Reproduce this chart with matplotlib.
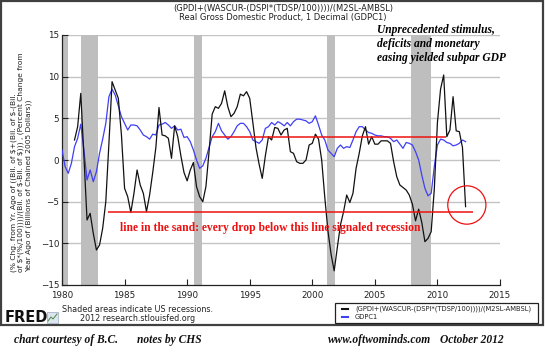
import numpy as np
import matplotlib
matplotlib.use("Agg")
import matplotlib.pyplot as plt
from matplotlib.patches import Rectangle, Ellipse
from matplotlib.lines import Line2D

# ---------------- data (quarterly, % change from year ago) ----------------
black_start = 1981.0
black_vals = [
    2.4, 4.0, 8.0, 0.5,        # 1981
    -7.2, -6.4, -8.8, -10.8,   # 1982
    -10.2, -8.2, -5.0, 2.0,    # 1983
    9.4, 8.4, 7.4, 3.0,        # 1984
    -3.4, -4.4, -6.3, -4.0,    # 1985
    -1.2, -3.0, -4.0, -6.2,    # 1986
    -4.2, -1.5, 1.5, 6.3,      # 1987
    3.0, 2.9, 2.6, 0.2,        # 1988
    4.1, 2.8, 0.5, -1.5,       # 1989
    -2.5, -1.2, -0.3, -3.2,    # 1990
    -4.4, -5.0, -3.2, 1.0,     # 1991
    5.5, 6.4, 6.2, 6.8,        # 1992
    8.3, 6.4, 5.2, 5.6,        # 1993
    6.4, 7.9, 7.7, 8.2,        # 1994
    7.4, 4.5, 1.5, -0.5,       # 1995
    -2.2, 0.5, 2.8, 2.4,       # 1996
    3.9, 3.8, 3.0, 3.6,        # 1997
    3.8, 1.0, 0.8, -0.2,       # 1998
    -0.4, -0.4, 0.0, 1.8,      # 1999
    2.0, 3.1, 2.5, 0.0,        # 2000
    -4.5, -8.5, -11.3, -13.3,  # 2001
    -10.5, -7.8, -6.2, -4.2,   # 2002
    -5.1, -4.0, -1.0, 0.8,     # 2003
    2.9, 4.0, 1.9, 2.8,        # 2004
    1.9, 1.9, 2.3, 2.3,        # 2005
    2.3, 2.0, -0.2, -2.0,      # 2006
    -3.0, -3.3, -3.6, -4.2,    # 2007
    -5.3, -7.3, -5.9, -7.5,    # 2008
    -9.8, -9.4, -8.6, -3.5,    # 2009
    4.5, 8.5, 10.2, 2.8,       # 2010
    3.6, 7.6, 3.5, 3.4,        # 2011
    1.5, -5.6,                 # 2012
]

blue_start = 1980.0
blue_vals = [
    1.2, -0.8, -1.6, -0.4,     # 1980
    1.6, 2.6, 4.3, 1.2,        # 1981
    -2.4, -1.2, -2.6, -1.4,    # 1982
    0.8, 2.5, 4.4, 7.6,        # 1983
    8.5, 7.8, 6.5, 5.2,        # 1984
    4.4, 3.6, 4.2, 4.2,        # 1985
    4.1, 3.6, 3.0, 2.8,        # 1986
    2.5, 3.1, 3.0, 4.2,        # 1987
    4.3, 4.5, 4.2, 3.8,        # 1988
    4.1, 3.6, 3.7, 2.7,        # 1989
    2.8, 2.2, 1.2, 0.0,        # 1990
    -1.0, -0.7, 0.2, 1.5,      # 1991
    2.8, 3.4, 4.4, 3.5,        # 1992
    3.0, 2.5, 2.8, 3.4,        # 1993
    4.1, 4.4, 4.4, 4.0,        # 1994
    3.4, 2.4, 2.2, 2.0,        # 1995
    2.4, 3.8, 4.0, 4.5,        # 1996
    4.2, 4.6, 4.4, 4.1,        # 1997
    4.5, 4.1, 4.6, 4.9,        # 1998
    4.9, 4.8, 4.7, 4.4,        # 1999
    4.6, 5.3, 4.2, 3.0,        # 2000
    2.4, 1.2, 0.8, 0.4,        # 2001
    1.4, 1.8, 1.4, 1.6,        # 2002
    1.5, 2.4, 3.4, 4.0,        # 2003
    4.0, 3.6, 3.3, 3.2,        # 2004
    3.0, 2.9, 2.9, 2.8,        # 2005
    2.8, 2.6, 2.2, 2.4,        # 2006
    1.9, 1.4, 2.1, 2.0,        # 2007
    1.8, 1.0, 0.0, -1.8,       # 2008
    -3.4, -4.3, -4.0, -0.8,    # 2009
    1.8, 2.5, 2.4, 2.1,        # 2010
    2.0, 1.7, 1.8, 2.0,        # 2011
    2.4, 2.2,                  # 2012
]

recessions = [(1980.0, 1980.5), (1981.5, 1982.87), (1990.55, 1991.2),
              (2001.15, 2001.85), (2007.92, 2009.45)]

upper_line = (1992.0, 2010.7, 2.75)
sand_line = (1983.7, 2012.85, -6.25)
circle_center = (2012.35, -5.4)

x_ticks = [1980, 1985, 1990, 1995, 2000, 2005, 2010, 2015]
y_ticks = [-15, -10, -5, 0, 5, 10, 15]

title1 = "(GPDI+(WASCUR-(DSPI*(TDSP/100))))/(M2SL-AMBSL)"
title2 = "Real Gross Domestic Product, 1 Decimal (GDPC1)"
ylabel = ("(% Chg. from Yr. Ago of ((Bil. of \\$+(Bil. of \\$-(Bil.\n"
          "of \\$*(%/100))))/(Bil. of \\$-Bil. of \\$))) , (Percent Change from\n"
          "Year Ago of (Billions of Chained 2005 Dollars))")
legend_labels = ["(GPDI+(WASCUR-(DSPI*(TDSP/100))))/(M2SL-AMBSL)", "GDPC1"]

# ---------------- figure ----------------
W, H = 545, 356
fig = plt.figure(figsize=(W / 100, H / 100), dpi=100)
fig.patch.set_facecolor("white")

def fx(px):
    return px / W

def fy(py):
    return 1 - py / H

# outer FRED frame
fig.patches.append(Rectangle((fx(1), fy(325)), fx(542), 324 / H, transform=fig.transFigure,
                             fill=False, edgecolor="#404040", linewidth=1.6))

ax = fig.add_axes([fx(62), fy(285), fx(438), 250 / H])
ax.set_xlim(1980, 2015)
ax.set_ylim(-15, 15)

for a, b in recessions:
    ax.axvspan(a, b, color="#bebebe", lw=0, zorder=1)

for v in y_ticks:
    if v == -15:
        continue
    ax.axhline(v, color="#c4c4c4", lw=1.0, zorder=0.5)

bx = black_start + np.arange(len(black_vals)) / 4.0
blx = blue_start + np.arange(len(blue_vals)) / 4.0
ax.plot(blx, blue_vals, color="#3f3ff5", lw=0.9, zorder=3)
ax.plot(bx, black_vals, color="#111111", lw=0.9, zorder=4)

ax.hlines(upper_line[2], upper_line[0], upper_line[1], color="#ee1111", lw=1.1, zorder=5)
ax.hlines(sand_line[2], sand_line[0], sand_line[1], color="#ee1111", lw=1.1, zorder=5)
ax.add_patch(Ellipse(circle_center, width=3.05, height=4.6, fill=False,
                     edgecolor="#ee1111", lw=0.9, zorder=5))

for s in ["top", "right"]:
    ax.spines[s].set_visible(False)
for s in ["left", "bottom"]:
    ax.spines[s].set_color("#222222")
    ax.spines[s].set_linewidth(0.9)

ax.set_xticks(x_ticks)
ax.set_yticks(y_ticks)
ax.tick_params(axis="both", direction="in", length=4, width=0.8, color="#222222",
               labelsize=6.3, labelcolor="#222222")
ax.tick_params(axis="x", pad=4)
ax.tick_params(axis="y", pad=2)

ax.text(2005.2, 16.3, "Unprecedented stimulus,\ndeficits and monetary\neasing yielded subpar GDP",
        family="Liberation Serif", style="italic", weight="bold", fontsize=8.3,
        va="top", ha="left", linespacing=1.2, zorder=6, clip_on=False)
ax.text(1984.6, -8.1, "line in the sand: every drop below this line signaled recession",
        family="Liberation Serif", weight="bold", fontsize=8.4, color="#ee1111",
        va="center", ha="left", zorder=6)

# titles
fig.text(fx(283), fy(8), title1, ha="center", va="center", fontsize=6.0, color="#222222")
fig.text(fx(283), fy(17.5), title2, ha="center", va="center", fontsize=6.0, color="#222222")

# y label
fig.text(fx(21), fy(162), ylabel, rotation=90, ha="center", va="center",
         multialignment="left", fontsize=5.4, color="#222222", linespacing=1.2)

# footer of FRED chart
fig.text(fx(5), fy(317), "FRED", fontsize=10.5, weight="bold", color="#111111",
         ha="left", va="center")
fig.patches.append(Rectangle((fx(47), fy(323)), fx(11), 11 / H, transform=fig.transFigure,
                             facecolor="#dde6ee", edgecolor="#9aaabb", lw=0.5))
fig.lines.append(Line2D([fx(48), fx(51), fx(53), fx(57)], [fy(321), fy(317), fy(319), fy(314)],
                        transform=fig.transFigure, color="#4a8a4a", lw=0.7))
fig.text(fx(138), fy(309), "Shaded areas indicate US recessions.", fontsize=5.8,
         color="#222222", ha="center", va="center")
fig.text(fx(138), fy(318.5), "2012 research.stlouisfed.org", fontsize=5.8,
         color="#222222", ha="center", va="center")

# legend
fig.patches.append(Rectangle((fx(335), fy(323)), fx(203), 20 / H, transform=fig.transFigure,
                             fill=False, edgecolor="#222222", lw=0.9))
for i, (lab, col) in enumerate(zip(legend_labels, ["#111111", "#3f3ff5"])):
    yy = fy(309 + 8 * i)
    fig.lines.append(Line2D([fx(342), fx(348)], [yy, yy], transform=fig.transFigure,
                            color=col, lw=1.5))
    fig.text(fx(355), yy, lab, fontsize=4.9, color="#222222", ha="left", va="center")

# notes below the chart
note_kw = dict(family="Liberation Serif", style="italic", weight="bold", fontsize=8.3,
               color="#111111", va="center", ha="left")
fig.text(fx(14), fy(340), "chart courtesy of B.C.", **note_kw)
fig.text(fx(137), fy(340), "notes by CHS", **note_kw)
fig.text(fx(328), fy(340), "www.oftwominds.com", **note_kw)
fig.text(fx(440), fy(340), "October 2012", **note_kw)

fig.savefig("out.png", dpi=100, facecolor="white")
